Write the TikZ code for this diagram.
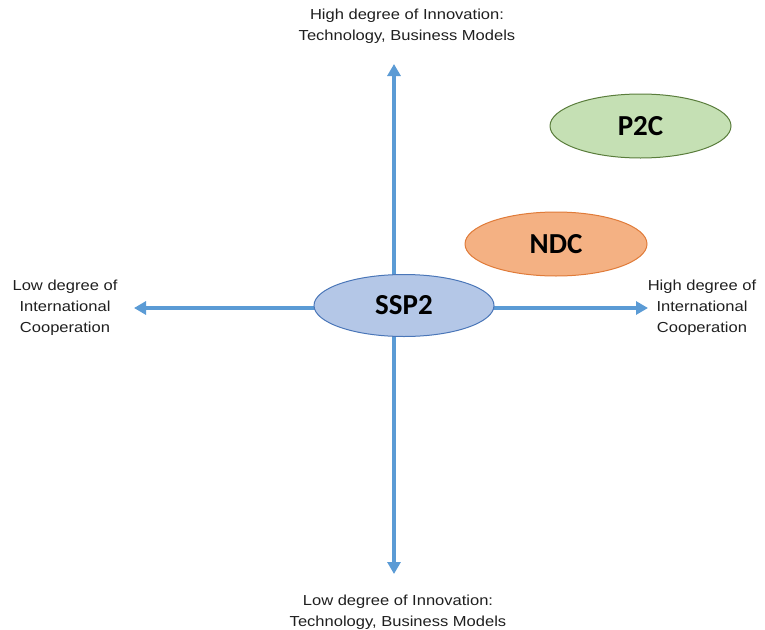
\documentclass[tikz,border=0pt]{standalone}
\usepackage{fontspec}
\setmainfont{Liberation Sans}[FakeStretch=1.14]
\newfontfamily\calib{Carlito}
\usetikzlibrary{arrows.meta,shapes.geometric}
\definecolor{axisblue}{HTML}{5B9BD5}
\definecolor{sspfill}{HTML}{B4C7E7}
\definecolor{sspdraw}{HTML}{4A76B8}
\definecolor{ndcfill}{HTML}{F4B183}
\definecolor{ndcdraw}{HTML}{E07B39}
\definecolor{p2cfill}{HTML}{C5E0B4}
\definecolor{p2cdraw}{HTML}{5A7D3C}
\tikzset{
  axis/.style={draw=axisblue, line width=3.4pt, -{Triangle[length=12pt,width=13pt]}},
  blob/.style={ellipse, line width=1pt, minimum width=180pt, minimum height=62pt, inner sep=0pt, font=\calib\bfseries\fontsize{29}{33}\selectfont},
  lbl/.style={align=center, font=\fontsize{14.5}{21}\selectfont, text=black!88}
}
\begin{document}
\begin{tikzpicture}[x=1pt,y=1pt]
\useasboundingbox (0,0) rectangle (765,-629);
\coordinate (o) at (394,-308);
\coordinate (top) at (394,-64);
\coordinate (bot) at (394,-574);
\coordinate (left) at (134,-308);
\coordinate (right) at (648,-308);
\draw[axis] (o) -- (top);
\draw[axis] (o) -- (bot);
\draw[axis] (o) -- (left);
\draw[axis] (o) -- (right);
\node[blob, fill=sspfill, draw=sspdraw] (ssp) at (404,-305.5) {SSP2};
\node[blob, fill=ndcfill, draw=ndcdraw, minimum width=182pt, minimum height=64pt] (ndc) at (556,-244) {NDC};
\node[blob, fill=p2cfill, draw=p2cdraw, minimum width=181pt, minimum height=64pt] (p2c) at (640.5,-126) {P2C};
\node[lbl] (tl) at (407,-26) {High degree of Innovation:\\Technology, Business Models};
\node[lbl] (bl) at (398,-612) {Low degree of Innovation:\\Technology, Business Models};
\node[lbl] (ll) at (65,-308) {Low degree of\\International\\Cooperation};
\node[lbl] (rl) at (702,-308) {High degree of\\International\\Cooperation};
\end{tikzpicture}
\end{document}
